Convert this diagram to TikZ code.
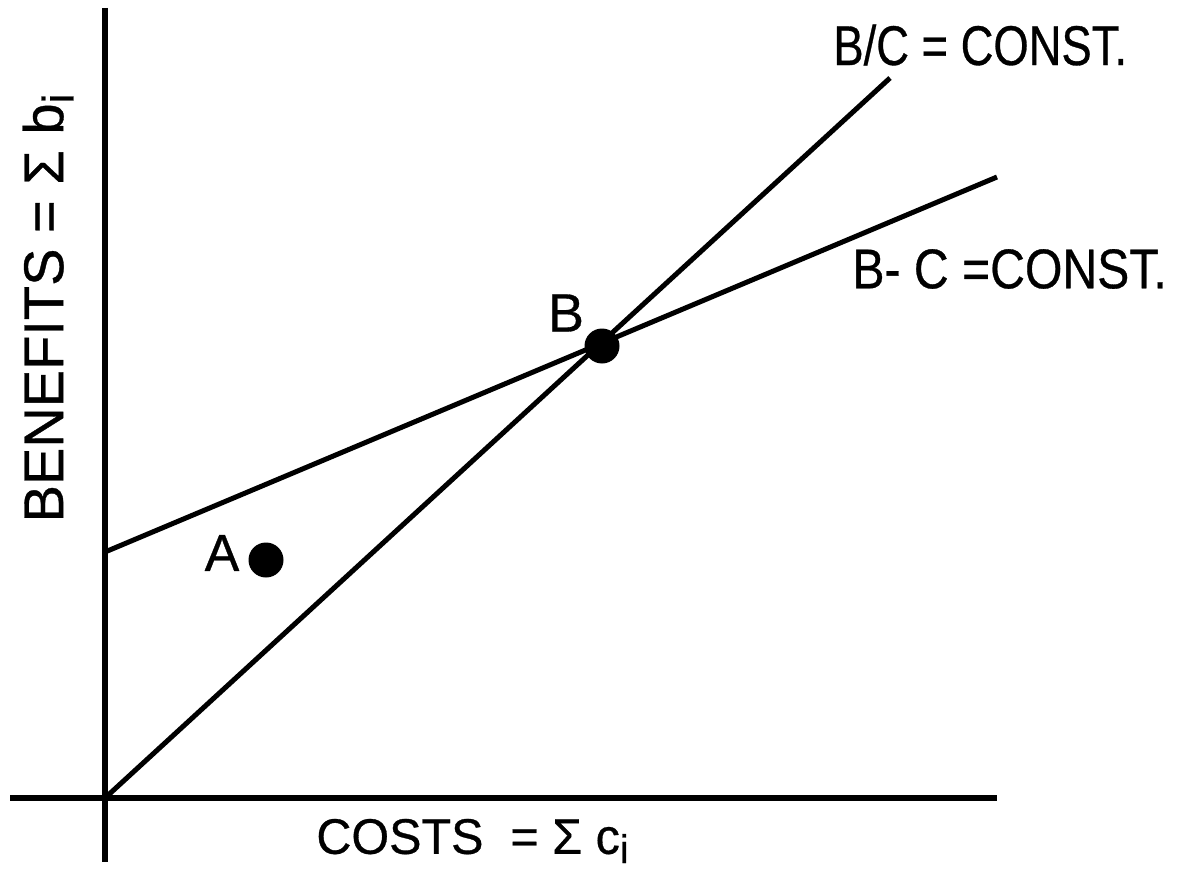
\documentclass[tikz,border=0pt]{standalone}
\usepackage{fontspec}
\usepackage{graphicx}
\setmainfont{Liberation Sans}
\newfontfamily\labfont[FakeBold=0.6]{Liberation Sans}
\begin{document}
\begin{tikzpicture}[x=0.5pt,y=-0.5pt,
  axis/.style={line width=2.7pt},
  curve/.style={line width=2.5pt},
  dot/.style={circle,fill=black,inner sep=0pt,minimum size=#1},
  lbl/.style={font=\labfont,inner sep=0pt}]
\useasboundingbox (0,0) rectangle (1183,888);
% axes
\coordinate (ytop) at (105,8);
\coordinate (ybot) at (105,862);
\coordinate (xleft) at (10,798);
\coordinate (xright) at (997,798);
\coordinate (O) at (105,798);
\coordinate (Y0) at (105,552);
\coordinate (BCend) at (890,78);
\coordinate (BMCend) at (997,177);
\draw[axis] (ytop) -- (ybot);
\draw[axis] (xleft) -- (xright);
% lines
\draw[curve] (O) -- (BCend);
\draw[curve] (Y0) -- (BMCend);
% points
\node[dot=17.5pt] (B) at (602,346) {};
\node[dot=17.5pt] (A) at (266,560) {};
% labels
\node[lbl] (Alab) at (222,553) {\fontsize{26}{28}\selectfont A};
\node[lbl] (Blab) at (566,313) {\fontsize{27}{29}\selectfont B};
\node[lbl,anchor=west] (BClab) at (833,45)
  {\scalebox{0.81}[1]{\fontsize{28}{30}\selectfont B/C = CONST.}};
\node[lbl,anchor=west] (BMClab) at (852,269)
  {\scalebox{0.86}[1]{\fontsize{28}{30}\selectfont B- C =CONST.}};
\node[lbl,anchor=west] (xlab) at (316,841)
  {\scalebox{0.97}[1]{\fontsize{25}{28}\selectfont COSTS\ \ = Σ c\raisebox{-0.35ex}{\fontsize{20}{22}\selectfont i}}};
\node[lbl,rotate=90] (ylab) at (48,308)
  {\fontsize{28}{30}\selectfont BENEFITS = Σ b\raisebox{-0.35ex}{\fontsize{22}{24}\selectfont i}};
\end{tikzpicture}
\end{document}
